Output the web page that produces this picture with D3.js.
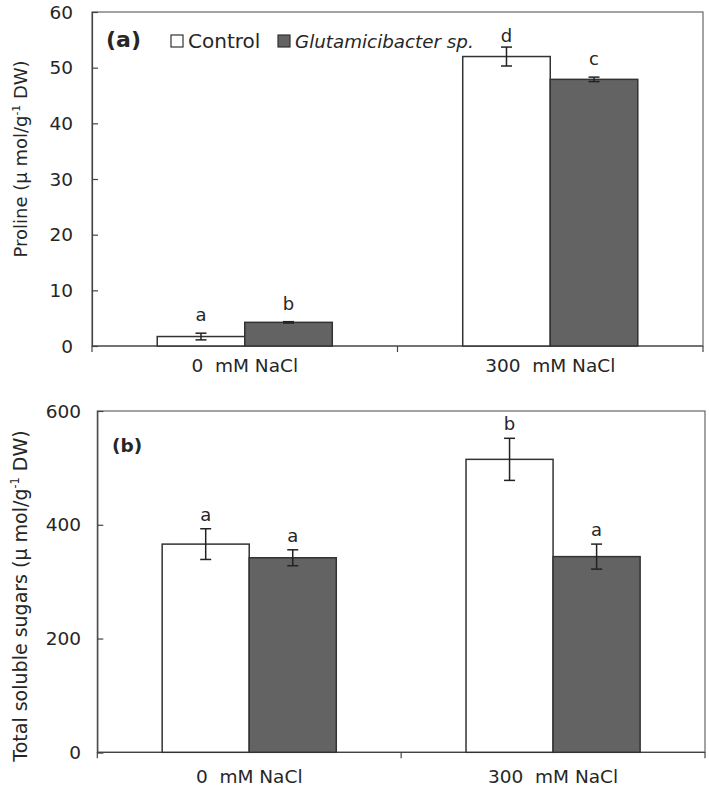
<!DOCTYPE html>
<html><head><meta charset="utf-8">
<script src="https://cdn.jsdelivr.net/npm/d3@7"></script>
<style>
html,body{margin:0;padding:0;background:#fff;}
svg{display:block;}
text{font-family:"DejaVu Sans",sans-serif;fill:#262626;}
</style></head>
<body>
<svg id="chart" width="709" height="786"></svg>
<script>
// ---------- data ----------
const categories = ["0  mM NaCl", "300  mM NaCl"];
const seriesNames = ["Control", "Glutamicibacter sp."];

const prolineControl = [1.7, 52.0];
const prolineControlErr = [0.6, 1.7];
const prolineGlut = [4.25, 47.9];
const prolineGlutErr = [0.12, 0.4];
const prolineLetters = [["a", "d"], ["b", "c"]];
const prolineTicks = [0, 10, 20, 30, 40, 50, 60];

const sugarControl = [366, 515];
const sugarControlErr = [27, 37];
const sugarGlut = [342, 344];
const sugarGlutErr = [14, 22];
const sugarLetters = [["a", "b"], ["a", "a"]];
const sugarTicks = [0, 200, 400, 600];

const fills = ["#ffffff", "#636363"];

const svg = d3.select("#chart");

function panel(cfg) {
  const g = svg.append("g");
  const x = d3.scaleBand().domain(categories).range([cfg.left, cfg.right]).paddingInner(0).paddingOuter(0);
  const y = d3.scaleLinear().domain([0, cfg.max]).range([cfg.bottom, cfg.top]);
  const barW = x.bandwidth() * 0.2865;

  // frame
  g.append("rect").attr("x", cfg.left).attr("y", cfg.top)
    .attr("width", cfg.right - cfg.left).attr("height", cfg.bottom - cfg.top)
    .attr("fill", "none").attr("stroke", "#666").attr("stroke-width", 1.2);

  // y axis (inward ticks)
  const yAxis = d3.axisRight(y).tickValues(cfg.ticks).tickSize(6).tickFormat("");
  const ya = g.append("g").attr("transform", `translate(${cfg.left},0)`).call(yAxis);
  ya.select(".domain").attr("stroke", "#444").attr("stroke-width", 1.2);
  ya.selectAll(".tick line").attr("stroke", "#444").attr("stroke-width", 1.2);
  g.selectAll(".ytl").data(cfg.ticks).join("text")
    .attr("x", cfg.labelX).attr("y", d => y(d)).attr("dy", "0.36em")
    .attr("text-anchor", "end").attr("font-size", cfg.tickFont).text(d => d);

  // x axis (outward ticks at category boundaries)
  const bounds = [cfg.left, (cfg.left + cfg.right) / 2, cfg.right];
  g.append("line").attr("x1", cfg.left).attr("x2", cfg.right)
    .attr("y1", cfg.bottom).attr("y2", cfg.bottom).attr("stroke", "#444").attr("stroke-width", 1.2);
  g.selectAll(".xt").data(bounds).join("line")
    .attr("x1", d => d).attr("x2", d => d).attr("y1", cfg.bottom).attr("y2", cfg.bottom + 6)
    .attr("stroke", "#444").attr("stroke-width", 1.2);
  g.selectAll(".xtl").data(categories).join("text")
    .attr("x", d => x(d) + x.bandwidth() / 2).attr("y", cfg.bottom + cfg.xLabelDy)
    .attr("text-anchor", "middle").attr("font-size", cfg.xFont)
    .attr("xml:space", "preserve").style("white-space", "pre").text(d => d);

  // bars
  const series = [
    {vals: cfg.control, errs: cfg.controlErr, letters: cfg.letters[0]},
    {vals: cfg.glut, errs: cfg.glutErr, letters: cfg.letters[1]}
  ];
  series.forEach((s, si) => {
    const cx = (c) => x(c) + x.bandwidth() / 2 + (si === 0 ? -barW / 2 : barW / 2);
    g.selectAll(".bar" + si).data(categories).join("rect")
      .attr("x", c => cx(c) - barW / 2).attr("width", barW)
      .attr("y", (c, i) => y(s.vals[i])).attr("height", (c, i) => cfg.bottom - y(s.vals[i]))
      .attr("fill", fills[si]).attr("stroke", "#333").attr("stroke-width", 1.5);
    // error bars
    categories.forEach((c, i) => {
      const hi = y(s.vals[i] + s.errs[i]), lo = y(s.vals[i] - s.errs[i]);
      const xc = cx(c);
      g.append("line").attr("x1", xc).attr("x2", xc).attr("y1", hi).attr("y2", lo)
        .attr("stroke", "#222").attr("stroke-width", 1.5);
      [hi, lo].forEach(yy => g.append("line").attr("x1", xc - 5.5).attr("x2", xc + 5.5)
        .attr("y1", yy).attr("y2", yy).attr("stroke", "#222").attr("stroke-width", 1.5));
      const ly = Math.max(hi - cfg.letterGap, cfg.minLetterY);
      g.append("text").attr("x", xc).attr("y", ly).attr("text-anchor", "middle")
        .attr("font-size", cfg.letterFont).text(s.letters[i]);
    });
  });

  // y label
  const yl = g.append("text").attr("transform", `translate(${cfg.yLabelX},${cfg.yLabelY}) rotate(-90)`)
    .attr("text-anchor", "middle").attr("font-size", cfg.yFont);
  yl.append("tspan").text(cfg.yLabel + " (µ mol/g");
  yl.append("tspan").attr("dy", -cfg.yFont * 0.4).attr("font-size", cfg.yFont * 0.6).text("-1");
  yl.append("tspan").attr("dy", cfg.yFont * 0.4).text(" DW)");

  // panel tag
  g.append("text").attr("x", cfg.tagX).attr("y", cfg.tagY)
    .attr("font-family", cfg.tagFamily).attr("font-weight", "bold")
    .attr("font-size", cfg.tagFont).text(cfg.tag);
  return g;
}

panel({
  left: 92, right: 703, top: 12, bottom: 346, max: 60, ticks: prolineTicks,
  control: prolineControl, controlErr: prolineControlErr, glut: prolineGlut, glutErr: prolineGlutErr,
  letters: prolineLetters, letterGap: 12, letterFont: 18, minLetterY: 42,
  labelX: 73, tickFont: 18.5, xFont: 18.5, xLabelDy: 26,
  yLabel: "Proline", yLabelX: 27, yLabelY: 159, yFont: 18,
  tag: "(a)", tagX: 106, tagY: 47, tagFont: 22, tagFamily: "Lato"
});

panel({
  left: 97.3, right: 705, top: 411, bottom: 752.3, max: 600, ticks: sugarTicks,
  control: sugarControl, controlErr: sugarControlErr, glut: sugarGlut, glutErr: sugarGlutErr,
  letters: sugarLetters, letterGap: 8, letterFont: 18, minLetterY: 0,
  labelX: 81, tickFont: 18.5, xFont: 18.5, xLabelDy: 31,
  yLabel: "Total soluble sugars", yLabelX: 27, yLabelY: 596, yFont: 19,
  tag: "(b)", tagX: 112, tagY: 452, tagFont: 18.5, tagFamily: "DejaVu Sans"
});

// legend
const leg = svg.append("g");
const legX = [171, 278];
const legFont = [20, 18.3];
seriesNames.forEach((n, i) => {
  leg.append("rect").attr("x", legX[i]).attr("y", 35).attr("width", 12).attr("height", 12)
    .attr("fill", fills[i]).attr("stroke", "#333").attr("stroke-width", 1.2);
  leg.append("text").attr("x", legX[i] + 17).attr("y", 47.5)
    .attr("font-family", "Lato").attr("font-size", legFont[i])
    .attr("font-style", i === 1 ? "italic" : "normal").text(n);
});
</script>
</body></html>
